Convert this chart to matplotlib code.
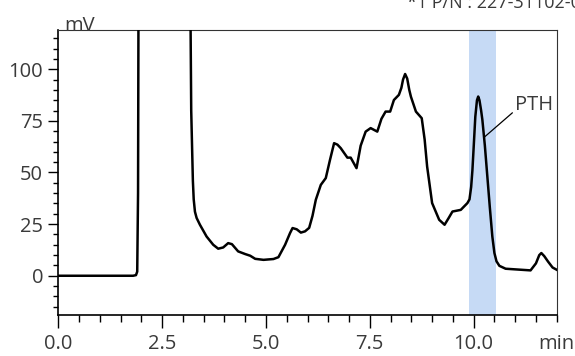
import matplotlib.pyplot as plt

plt.rcParams['font.family'] = ['Open Sans', 'DejaVu Sans']

# chromatogram trace (min, mV)
time_min = [0.0, 1.80, 1.87, 1.90, 1.92, 1.95, 3.15, 3.17, 3.20, 3.24, 3.26,
            3.29, 3.33, 3.41, 3.57, 3.73, 3.85, 3.97, 4.09, 4.18, 4.33,
            4.50, 4.62, 4.74, 4.94, 5.18, 5.30, 5.46, 5.58, 5.64, 5.74,
            5.84, 5.94, 6.04, 6.12, 6.20, 6.32, 6.44, 6.54, 6.64, 6.72,
            6.80, 6.96, 7.04, 7.18, 7.28, 7.40, 7.52, 7.68, 7.78, 7.88,
            7.99, 8.08, 8.20, 8.26, 8.30, 8.35, 8.40, 8.45, 8.49, 8.61,
            8.75, 8.82, 8.88, 9.00, 9.17, 9.30, 9.40, 9.49, 9.69, 9.85,
            9.90, 9.94, 9.97, 10.00, 10.04, 10.08, 10.11, 10.14, 10.18, 10.21,
            10.27, 10.33, 10.39, 10.45, 10.50, 10.55, 10.62, 10.77, 11.37, 11.50,
            11.58, 11.63, 11.70, 11.79, 11.90, 12.0]
signal_mv = [0.0, 0.0, 0.3, 2.0, 40.0, 300.0, 300.0, 160.0, 80.0, 46.0, 37.0,
             31.0, 28.0, 24.7, 19.0, 15.0, 13.1, 13.7, 15.8, 15.3, 11.8,
             10.5, 9.7, 8.2, 7.7, 8.1, 9.0, 15.0, 20.7, 23.1, 22.5,
             20.9, 21.5, 23.2, 29.0, 36.8, 44.0, 47.3, 56.0, 64.2, 63.5,
             61.8, 57.2, 57.2, 52.1, 63.0, 69.8, 71.5, 69.8, 76.0, 79.5,
             79.5, 85.1, 87.6, 91.0, 95.0, 97.7, 95.5, 90.0, 86.7, 79.5,
             76.3, 66.0, 52.9, 35.2, 27.1, 24.7, 28.0, 31.1, 31.9, 35.2,
             37.0, 43.0, 51.0, 62.0, 77.0, 85.0, 86.8, 85.0, 80.0, 75.5,
             63.0, 48.0, 33.0, 19.0, 11.0, 7.0, 4.8, 3.4, 2.6, 6.0,
             10.0, 11.0, 9.5, 6.9, 4.0, 2.9]

x_ticks = [0.0, 2.5, 5.0, 7.5, 10.0]
x_tick_labels = ['0.0', '2.5', '5.0', '7.5', '10.0']
y_ticks = [0, 25, 50, 75, 100]
pth_window = (9.9, 10.55)
peak_label = 'PTH'

text_col = '#3a3a3a'
fs = 14.5

fig = plt.figure(figsize=(5.75, 3.56), dpi=100)
ax = fig.add_axes([0.1014, 0.1152, 0.8668, 0.8005])

# 分取範囲
ax.axvspan(pth_window[0], pth_window[1], color='#c6daf5', lw=0, zorder=1)
ax.plot(time_min, signal_mv, color='black', lw=1.8, zorder=3,
        solid_joinstyle='round')

ax.set_xlim(0, 12)
ax.set_ylim(-19, 119)

ax.set_xticks(x_ticks)
ax.set_xticklabels(x_tick_labels)
ax.set_xticks([i * 0.5 for i in range(25)], minor=True)
ax.set_yticks(y_ticks)
ax.set_yticks([i * 5 for i in range(-3, 24)], minor=True)

ax.tick_params(axis='x', which='major', length=9, width=1, pad=5,
               labelsize=fs, labelcolor=text_col)
ax.tick_params(axis='x', which='minor', length=5, width=1)
ax.tick_params(axis='y', which='major', length=7, width=1, pad=4,
               labelsize=fs, labelcolor=text_col)
ax.tick_params(axis='y', which='minor', length=3.6, width=1)

for side in ['left', 'bottom']:
    ax.spines[side].set_linewidth(1.2)
for side in ['top', 'right']:
    ax.spines[side].set_linewidth(0.8)
    ax.spines[side].set_color('#333333')

ax.text(0.012, 0.995, 'mV', transform=ax.transAxes, ha='left', va='baseline',
        fontsize=fs, color=text_col)
ax.annotate('min', xy=(1.0, 0), xycoords='axes fraction', xytext=(0, -14),
            textcoords='offset points', ha='center', va='top',
            fontsize=fs, color=text_col)

ax.annotate(peak_label, xy=(10.25, 67), xytext=(11.0, 82.5),
            ha='left', va='center', fontsize=fs, color=text_col,
            arrowprops=dict(arrowstyle='-', color='black', lw=0.9,
                            relpos=(0, 0.25), shrinkA=0, shrinkB=0))

fig.text(407 / 575, 1 - 8 / 356, '*1 P/N : 227-31102-01', ha='left',
         va='baseline', fontsize=13, color=text_col)

fig.savefig('out.png', dpi=100)
